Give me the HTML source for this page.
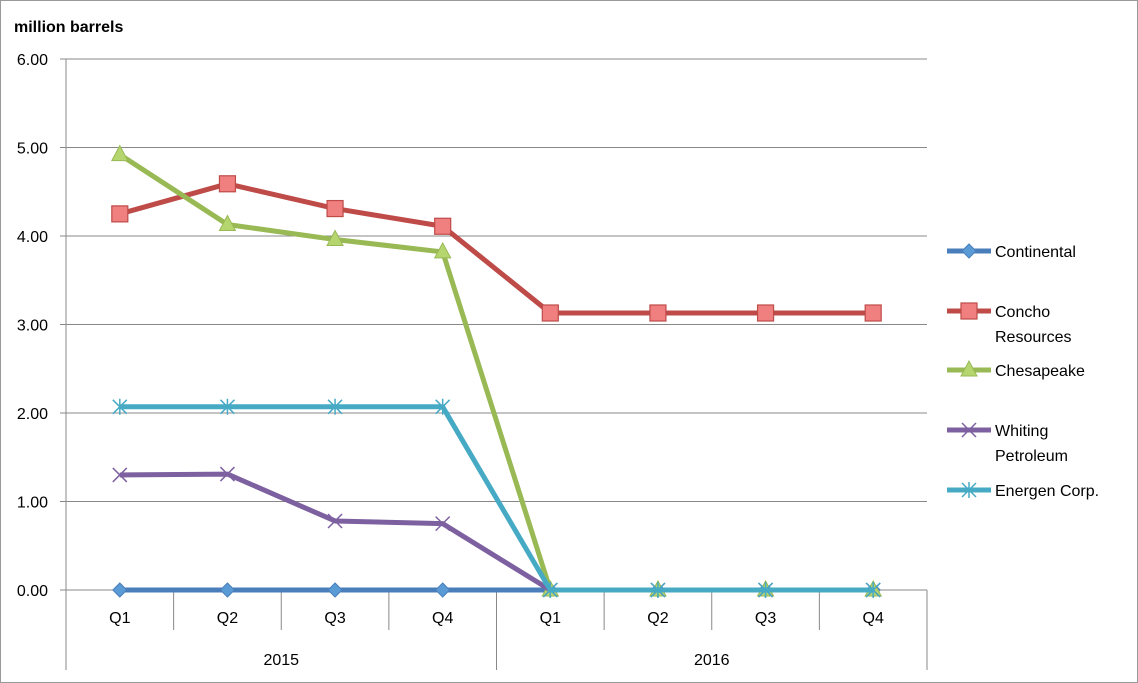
<!DOCTYPE html>
<html><head><meta charset="utf-8"><style>
body{margin:0;background:#fff;}
svg{display:block;font-family:"Liberation Sans",sans-serif;}
</style></head><body>
<svg id="chart" width="1138" height="683" viewBox="0 0 1138 683">
<rect x="0.5" y="0.5" width="1137" height="682" fill="#fff" stroke="#999"/>
<text x="14" y="32" font-size="16" font-weight="bold" fill="#000">million barrels</text>
<g id="grid"></g><g id="axes"></g><g id="series"></g><g id="legend"></g>
</svg>
<script>
const categories=["Q1","Q2","Q3","Q4","Q1","Q2","Q3","Q4"];
const years=["2015","2016"];
const yTicks=[0,1,2,3,4,5,6];
const seriesNames=["Continental","Concho Resources","Chesapeake","Whiting Petroleum","Energen Corp."];
const continental=[0,0,0,0,0,0,0,0];
const concho=[4.25,4.59,4.31,4.11,3.13,3.13,3.13,3.13];
const chesapeake=[4.92,4.13,3.96,3.82,0,0,0,0];
const whiting=[1.30,1.31,0.78,0.75,0,0,0,0];
const energen=[2.07,2.07,2.07,2.07,0,0,0,0];

const NS="http://www.w3.org/2000/svg";
const X0=66,X1=927,Y0=590,Y1=59,YMAX=6;
const bw=(X1-X0)/categories.length;
const xs=i=>X0+bw*(i+0.5);
const ys=v=>Y0-(v/YMAX)*(Y0-Y1);
function mk(tag,attrs,parent){const e=document.createElementNS(NS,tag);for(const k in attrs)e.setAttribute(k,attrs[k]);parent.appendChild(e);return e;}
const grid=document.getElementById('grid'),axes=document.getElementById('axes'),ser=document.getElementById('series'),leg=document.getElementById('legend');
yTicks.forEach(t=>{
 const y=ys(t);
 const l=mk('line',{x1:X0-6,x2:X1,y1:y,y2:y,stroke:t===0?'#888':'#888','stroke-width':1},grid);
 
 
 const tx=mk('text',{x:X0-18,y:y+6,'font-size':16,'text-anchor':'end',fill:'#000'},axes);
 tx.textContent=t.toFixed(2);
 
 
});
const ax=mk('line',{x1:X0,x2:X0,y1:Y1,y2:670,stroke:'#888'},axes);


for(let i=1;i<=categories.length;i++){
 const x=X0+bw*i;
 const full=(i%4===0);
 const l=mk('line',{x1:x,x2:x,y1:Y0,y2:full?670:630,stroke:'#888'},axes);
 
 
}
categories.forEach((c,i)=>{
 const t=mk('text',{x:xs(i),y:623,'font-size':16,'text-anchor':'middle'},axes);
 t.textContent=c;
 
 
});
years.forEach((yr,i)=>{
 const t=mk('text',{x:X0+bw*(4*i+2),y:665,'font-size':16,'text-anchor':'middle'},axes);
 t.textContent=yr;
 
 
});
const defs=[
 {d:continental,c:'#4a7ebb',m:'diamond',f:'#5b9bd5'},
 {d:concho,c:'#be4b48',m:'square',f:'#f08080'},
 {d:chesapeake,c:'#98b954',m:'triangle',f:'#b5d56f'},
 {d:whiting,c:'#7d60a0',m:'x',f:'none'},
 {d:energen,c:'#46aac5',m:'star',f:'none'}];
function marker(type,x,y,c,f,g){
 if(type==='diamond')return mk('path',{d:`M${x} ${y-7}L${x+7} ${y}L${x} ${y+7}L${x-7} ${y}Z`,fill:f,stroke:c,'stroke-width':1},g);
 if(type==='square')return mk('rect',{x:x-8,y:y-8,width:16,height:16,fill:f,stroke:c,'stroke-width':1.2},g);
 if(type==='triangle')return mk('path',{d:`M${x} ${y-9}L${x+8} ${y+6}L${x-8} ${y+6}Z`,fill:f,stroke:c,'stroke-width':1},g);
 if(type==='x')return mk('path',{d:`M${x-7} ${y-7}L${x+7} ${y+7}M${x+7} ${y-7}L${x-7} ${y+7}`,stroke:c,'stroke-width':1.5},g);
 return mk('path',{d:`M${x-7} ${y-7}L${x+7} ${y+7}M${x+7} ${y-7}L${x-7} ${y+7}M${x} ${y-8}L${x} ${y+8}`,stroke:c,'stroke-width':1.5},g);
}
defs.forEach((s,k)=>{
 const g=mk('g',{},ser);
 
 
 const pts=s.d.map((v,i)=>xs(i)+','+ys(v)).join(' ');
 const pl=mk('polyline',{points:pts,fill:'none',stroke:s.c,'stroke-width':5,'stroke-linejoin':'round'},g);
 
 
 s.d.forEach((v,i)=>{
  const m=marker(s.m,xs(i),ys(v),s.c,s.f,g);
  
  
 });
});
const legY=[251,323,370,442,490];
const legLines=[["Continental"],["Concho","Resources"],["Chesapeake"],["Whiting","Petroleum"],["Energen Corp."]];
const legLineY=[251,311,370,430,490];
defs.forEach((s,k)=>{
 const g=mk('g',{},leg);
 
 
 const y=legLineY[k];
 mk('line',{x1:947,x2:991,y1:y,y2:y,stroke:s.c,'stroke-width':5},g);
 marker(s.m,969,y,s.c,s.f,g);
 legLines[k].forEach((ln,j)=>{
  const t=mk('text',{x:995,y:y+6+j*25,'font-size':16},g);
  t.textContent=ln;
 });
});
</script>
</body></html>
